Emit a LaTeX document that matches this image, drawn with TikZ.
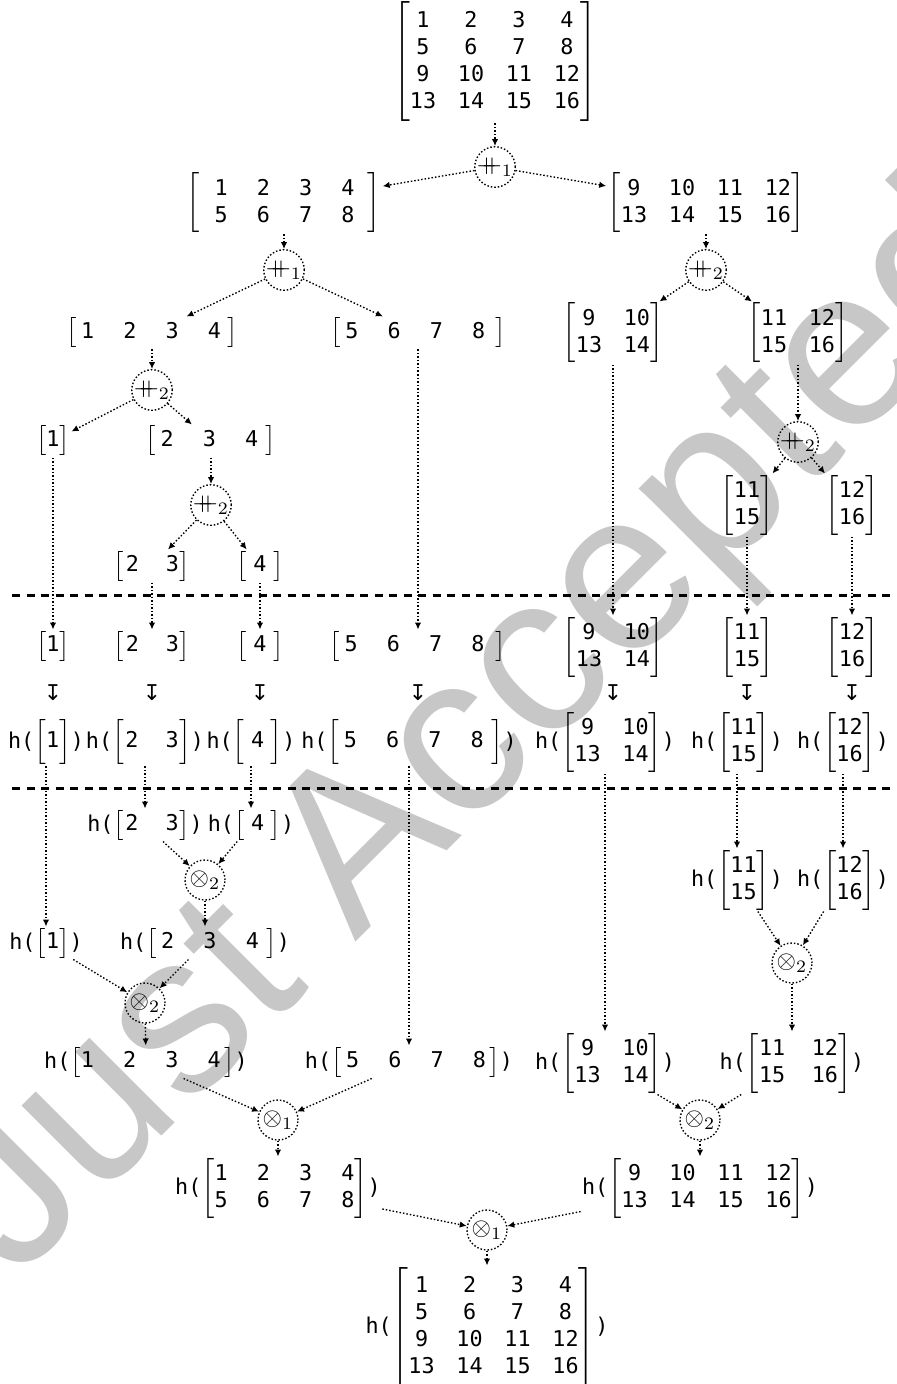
\documentclass[tikz,border=0pt]{standalone}
\usepackage{fontspec}
\usepackage{amsmath}
\usetikzlibrary{arrows.meta}
\newfontfamily\mono{DejaVu Sans Mono}
\newfontfamily\dvs{DejaVu Sans}
\newfontfamily\wmfont{Liberation Sans}
\newcommand\tf{\mono\fontsize{8.7}{10.7}\selectfont}
\newcommand\bm[5]{\left[\hspace{#2}\mbox{\tf\setlength\tabcolsep{#1}\begin{tabular}{@{}#4@{}}#5\end{tabular}}\hspace{#3}\right]}
\newcommand\bmt[5]{\left[\rule[-5pt]{0pt}{15pt}\hspace{#2}\mbox{\tf\setlength\tabcolsep{#1}\begin{tabular}{@{}#4@{}}#5\end{tabular}}\hspace{#3}\right]}
\newcommand\bmq[1]{\left[\rule[-21.5pt]{0pt}{48pt}\mbox{\tf\setlength\tabcolsep{4.36pt}\begin{tabular}{@{}cccc@{}}#1\end{tabular}}\right]}
\newcommand\hh[1]{{\tf h(}#1{\tf )}}
\newcommand\conc{\mathbin{+\mkern-10mu+}}
\tikzset{
 mat/.style={inner sep=0.6pt, outer sep=0pt, font=\fontsize{10}{12}\selectfont},
 op/.style={circle, draw, line width=0.55pt, dash pattern=on 0.6pt off 0.8pt, minimum size=16pt, inner sep=0pt, font=\fontsize{10}{12}\selectfont},
 conn/.style={line width=0.55pt, dash pattern=on 0.6pt off 0.8pt, -{Latex[length=2.8pt,width=2.6pt]}},
 sepline/.style={line width=1.2pt, dash pattern=on 3.2pt off 2.6pt},
 mapsym/.style={inner sep=0pt, font=\dvs\fontsize{8.7}{10}\selectfont},
}
\begin{document}
\begin{tikzpicture}[x=0.4pt,y=-0.4pt]
\useasboundingbox (0,0) rectangle (896,1384);
% watermark
\begin{scope}
\clip (0,0) rectangle (896,1384);
\node[rotate=45, text=black!22, font=\wmfont\fontsize{91}{91}\selectfont, inner sep=0pt] (wm) at (480,735) {Just Accepted};
\end{scope}
% separators
\coordinate (s1a) at (12,595); \coordinate (s1b) at (896,595);
\coordinate (s2a) at (12,788); \coordinate (s2b) at (896,788);
\draw[sepline] (s1a) -- (s1b);
\draw[sepline] (s2a) -- (s2b);
% split tree
\node[mat] (M0) at (495,62) {$\bmq{1&2&3&4\\5&6&7&8\\9&10&11&12\\13&14&15&16}$};
\node[op] (c1) at (495,167) {$\conc_1$};
\node[mat] (L1) at (284,203) {$\bm{5.84pt}{5.8pt}{5.4pt}{cccc}{1&2&3&4\\5&6&7&8}$};
\node[mat] (R1) at (706,203) {$\bm{4.36pt}{0pt}{0pt}{cccc}{9&10&11&12\\13&14&15&16}$};
\node[op] (c2) at (284,270) {$\conc_1$};
\node[op] (c3) at (706,270) {$\conc_2$};
\node[mat] (L2) at (152,333) {$\bm{5.84pt}{1.8pt}{2.6pt}{cccc}{1&2&3&4}$};
\node[mat] (L3) at (418,333) {$\bm{5.84pt}{1.8pt}{4pt}{cccc}{5&6&7&8}$};
\node[mat] (R2) at (613,333) {$\bm{4.36pt}{0pt}{0pt}{cc}{9&10\\13&14}$};
\node[mat] (R3) at (798,333) {$\bm{4.36pt}{0pt}{0pt}{cc}{11&12\\15&16}$};
\node[op] (c4) at (152,390) {$\conc_2$};
\node[mat] (L4) at (53,441) {$\bm{0pt}{0pt}{0pt}{c}{1}$};
\node[mat] (L5) at (211,441) {$\bm{5.84pt}{1.8pt}{3pt}{ccc}{2&3&4}$};
\node[op] (c5) at (211,505) {$\conc_2$};
\node[mat] (L6) at (152,566) {$\bm{5.4pt}{0.6pt}{0.2pt}{cc}{2&3}$};
\node[mat] (L7) at (260,566) {$\bm{0pt}{2.6pt}{2.6pt}{c}{4}$};
\node[op] (c6) at (798,442) {$\conc_2$};
\node[mat] (R4) at (747,505) {$\bm{0pt}{0pt}{0pt}{c}{11\\15}$};
\node[mat] (R5) at (852,505) {$\bm{0pt}{0pt}{0pt}{c}{12\\16}$};
% row A
\node[mat] (A1) at (53,646) {$\bm{0pt}{0pt}{0pt}{c}{1}$};
\node[mat] (A2) at (152,646) {$\bm{5.4pt}{0.6pt}{0.2pt}{cc}{2&3}$};
\node[mat] (A3) at (260,646) {$\bm{0pt}{2.6pt}{2.6pt}{c}{4}$};
\node[mat] (A4) at (418,646) {$\bm{5.84pt}{1.8pt}{4.6pt}{cccc}{5&6&7&8}$};
\node[mat] (A5) at (613,647) {$\bm{4.36pt}{0pt}{0pt}{cc}{9&10\\13&14}$};
\node[mat] (A6) at (747,647) {$\bm{0pt}{0pt}{0pt}{c}{11\\15}$};
\node[mat] (A7) at (852,647) {$\bm{0pt}{0pt}{0pt}{c}{12\\16}$};
% maps
\node[mapsym] (m1) at (53,693) {↧};
\node[mapsym] (m2) at (152,693) {↧};
\node[mapsym] (m3) at (260,693) {↧};
\node[mapsym] (m4) at (418,693) {↧};
\node[mapsym] (m5) at (613,693) {↧};
\node[mapsym] (m6) at (747,693) {↧};
\node[mapsym] (m7) at (852,693) {↧};
% row B
\node[mat] (B1) at (46,742) {\hh{$\bmt{0pt}{0pt}{0pt}{c}{1}$}};
\node[mat] (B2) at (145,742) {\hh{$\bmt{5.4pt}{0.6pt}{0.2pt}{cc}{2&3}$}};
\node[mat] (B3) at (251,742) {\hh{$\bmt{0pt}{2.6pt}{2.6pt}{c}{4}$}};
\node[mat] (B4) at (409,742) {\hh{$\bmt{5.84pt}{1.8pt}{3.2pt}{cccc}{5&6&7&8}$}};
\node[mat] (B5) at (605,742) {\hh{$\bm{4.36pt}{0pt}{0pt}{cc}{9&10\\13&14}$}};
\node[mat] (B6) at (737,742) {\hh{$\bm{0pt}{0pt}{0pt}{c}{11\\15}$}};
\node[mat] (B7) at (843,742) {\hh{$\bm{0pt}{0pt}{0pt}{c}{12\\16}$}};
% merge tree
\node[mat] (C2) at (145,825) {\hh{$\bm{5.4pt}{0.6pt}{0.2pt}{cc}{2&3}$}};
\node[mat] (C3) at (251,825) {\hh{$\bm{0pt}{2.6pt}{2.6pt}{c}{4}$}};
\node[op] (c7) at (205,880) {$\otimes_2$};
\node[mat] (D1) at (46,943) {\hh{$\bm{0pt}{0pt}{0pt}{c}{1}$}};
\node[mat] (D2) at (205,943) {\hh{$\bm{5.84pt}{1.8pt}{3pt}{ccc}{2&3&4}$}};
\node[op] (c8) at (145,1003) {$\otimes_2$};
\node[mat] (D6) at (737,880) {\hh{$\bm{0pt}{0pt}{0pt}{c}{11\\15}$}};
\node[mat] (D7) at (843,880) {\hh{$\bm{0pt}{0pt}{0pt}{c}{12\\16}$}};
\node[op] (c10) at (792,963) {$\otimes_2$};
\node[mat] (E1) at (146,1062) {\hh{$\bm{5.84pt}{0pt}{1.4pt}{cccc}{1&2&3&4}$}};
\node[mat] (E2) at (409,1062) {\hh{$\bm{5.84pt}{1.8pt}{1.4pt}{cccc}{5&6&7&8}$}};
\node[mat] (E5) at (605,1063) {\hh{$\bm{4.36pt}{0pt}{0pt}{cc}{9&10\\13&14}$}};
\node[mat] (E6) at (792,1063) {\hh{$\bm{5.3pt}{0pt}{0pt}{cc}{11&12\\15&16}$}};
\node[op] (c9) at (278,1120) {$\otimes_1$};
\node[op] (c11) at (700,1120) {$\otimes_2$};
\node[mat] (F1) at (278,1188) {\hh{$\bm{5.84pt}{0pt}{0pt}{cccc}{1&2&3&4\\5&6&7&8}$}};
\node[mat] (F2) at (700,1188) {\hh{$\bm{4.36pt}{0pt}{0pt}{cccc}{9&10&11&12\\13&14&15&16}$}};
\node[op] (c12) at (487,1230) {$\otimes_1$};
\node[mat] (G) at (487,1327) {\hh{$\bmq{1&2&3&4\\5&6&7&8\\9&10&11&12\\13&14&15&16}$}};
% connectors
\draw[conn] (M0) -- (c1);
\draw[conn] (c1) -- (L1);
\draw[conn] (c1) -- (R1);
\draw[conn] (L1) -- (c2);
\draw[conn] (R1) -- (c3);
\draw[conn] (c2) -- (L2);
\draw[conn] (c2) -- (L3);
\draw[conn] (c3) -- (R2);
\draw[conn] (c3) -- (R3);
\draw[conn] (L2) -- (c4);
\draw[conn] (c4) -- (L4);
\draw[conn] (c4) -- (L5);
\draw[conn] (L5) -- (c5);
\draw[conn] (c5) -- (L6);
\draw[conn] (c5) -- (L7);
\draw[conn] (R3) -- (c6);
\draw[conn] (c6) -- (R4);
\draw[conn] (c6) -- (R5);
\draw[conn] (L4) -- (A1);
\draw[conn] (L6) -- (A2);
\draw[conn] (L7) -- (A3);
\draw[conn] (L3) -- (A4);
\draw[conn] (R2) -- (A5);
\draw[conn] (R4) -- (A6);
\draw[conn] (R5) -- (A7);
\draw[conn] (B1) -- (D1);
\draw[conn] (B2) -- (C2);
\draw[conn] (B3) -- (C3);
\draw[conn] (B4) -- (E2);
\draw[conn] (B5) -- (E5);
\draw[conn] (B6) -- (D6);
\draw[conn] (B7) -- (D7);
\draw[conn] (C2) -- (c7);
\draw[conn] (C3) -- (c7);
\draw[conn] (c7) -- (D2);
\draw[conn] (D1) -- (c8);
\draw[conn] (D2) -- (c8);
\draw[conn] (c8) -- (E1);
\draw[conn] (E1) -- (c9);
\draw[conn] (E2) -- (c9);
\draw[conn] (c9) -- (F1);
\draw[conn] (D6) -- (c10);
\draw[conn] (D7) -- (c10);
\draw[conn] (c10) -- (E6);
\draw[conn] (E5) -- (c11);
\draw[conn] (E6) -- (c11);
\draw[conn] (c11) -- (F2);
\draw[conn] (F1) -- (c12);
\draw[conn] (F2) -- (c12);
\draw[conn] (c12) -- (G);
\end{tikzpicture}
\end{document}
